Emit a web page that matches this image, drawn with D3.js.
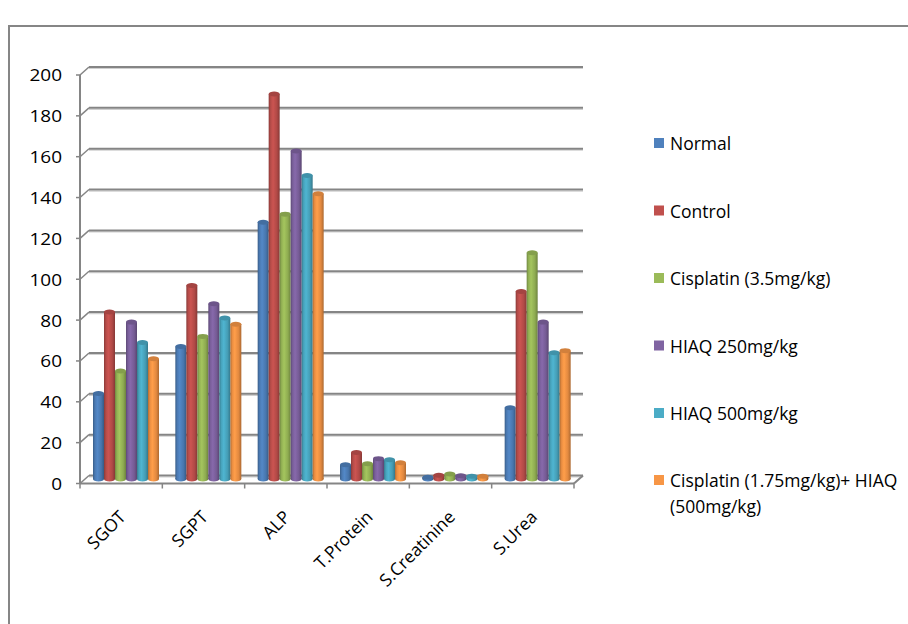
<!DOCTYPE html>
<html>
<head>
<meta charset="utf-8">
<script src="https://cdn.jsdelivr.net/npm/d3@7"></script>
<style>
  html, body { margin: 0; padding: 0; background: #fff; }
  svg { display: block; }
  text { font-family: "Open Sans", sans-serif; fill: #000; }
</style>
</head>
<body>
<svg id="chart" width="908" height="624"></svg>
<script>
// Biochemical parameters per treatment group
const categories = ["SGOT", "SGPT", "ALP", "T.Protein", "S.Creatinine", "S.Urea"];
const seriesNames = ["Normal", "Control", "Cisplatin (3.5mg/kg)", "HIAQ 250mg/kg", "HIAQ 500mg/kg", "Cisplatin (1.75mg/kg)+ HIAQ (500mg/kg)"];
const normal    = [42, 65, 126, 7, 0.8, 35];
const control   = [82, 95, 189, 13, 1.8, 92];
const cisplatin = [53, 70, 130, 7.5, 2.5, 111];
const hiaq250   = [77, 86, 161, 10, 1.6, 77];
const hiaq500   = [67, 79, 149, 9.5, 1.3, 62];
const combo     = [59, 76, 140, 8, 1.4, 63];
const seriesValues = [normal, control, cisplatin, hiaq250, hiaq500, combo];
const yTicks = [0, 20, 40, 60, 80, 100, 120, 140, 160, 180, 200];
const colors = ["#4F81BD", "#C0504D", "#9BBB59", "#8064A2", "#4BACC6", "#F79646"];

const svg = d3.select("#chart");
const defs = svg.append("defs");

// outer chart-area frame
svg.append("rect").attr("x", 9).attr("y", 26).attr("width", 940).attr("height", 640)
  .attr("fill", "none").attr("stroke", "#868686").attr("stroke-width", 2);

// 3D box geometry: front plane and depth offset
const left = 80, right = 574;
const depthX = 9, depthY = -8;
const yFront = d3.scaleLinear().domain([0, 200]).range([483.5, 75]);
const yBar = d3.scaleLinear().domain([0, 200]).range([479, 71.5]);
const x0 = d3.scaleBand().domain(categories).range([left, right]);
const x1 = d3.scaleBand().domain(seriesNames).range([8.5, 74.5]);
const barShiftX = depthX / 2;

const gridColor = "#858585";

// back wall gridlines + side wall diagonals
const grid = svg.append("g");
yTicks.forEach(t => {
  const yf = yFront(t);
  grid.append("line").attr("x1", left + depthX).attr("x2", right + depthX)
    .attr("y1", yf + depthY + 1.5).attr("y2", yf + depthY + 1.5)
    .attr("stroke", "#d0d0d0").attr("stroke-width", 1.2);
  grid.append("line").attr("x1", left + depthX).attr("x2", right + depthX)
    .attr("y1", yf + depthY).attr("y2", yf + depthY)
    .attr("stroke", gridColor).attr("stroke-width", 2);
  grid.append("line").attr("x1", left).attr("x2", left + depthX)
    .attr("y1", yf).attr("y2", yf + depthY)
    .attr("stroke", gridColor).attr("stroke-width", 1.5);
});

// floor edges
grid.append("line").attr("x1", left).attr("x2", right).attr("y1", yFront(0)).attr("y2", yFront(0))
  .attr("stroke", gridColor).attr("stroke-width", 2);
grid.append("line").attr("x1", right).attr("x2", right + depthX)
  .attr("y1", yFront(0)).attr("y2", yFront(0) + depthY)
  .attr("stroke", gridColor).attr("stroke-width", 2);

// category tick marks
const bounds = categories.map(c => x0(c)).concat([right]);
bounds.forEach(b => {
  grid.append("line").attr("x1", b).attr("x2", b).attr("y1", yFront(0)).attr("y2", yFront(0) + 5)
    .attr("stroke", gridColor).attr("stroke-width", 1.5);
});

// value axis line and ticks
grid.append("line").attr("x1", left).attr("x2", left).attr("y1", yFront(200)).attr("y2", yFront(0))
  .attr("stroke", gridColor).attr("stroke-width", 2);
yTicks.forEach(t => {
  grid.append("line").attr("x1", left - 4).attr("x2", left).attr("y1", yFront(t)).attr("y2", yFront(t))
    .attr("stroke", gridColor).attr("stroke-width", 1.5);
});

// value labels (slightly widened glyphs)
svg.append("g").selectAll("text").data(yTicks).join("text")
  .attr("transform", d => `translate(62,${yFront(d)}) scale(1.15,1)`)
  .attr("text-anchor", "end").attr("dominant-baseline", "central")
  .attr("font-size", 16.5).text(d => d);

// category labels
svg.append("g").selectAll("text").data(categories).join("text")
  .attr("transform", d => `translate(${x0(d) + x0.bandwidth() / 2 - 3},${yFront(0) + 26}) rotate(-45)`)
  .attr("text-anchor", "end").attr("dy", "0.7em")
  .attr("font-size", 17.5).text(d => d);

// cylinder shading gradients
colors.forEach((c, i) => {
  const g = defs.append("linearGradient").attr("id", "cyl" + i)
    .attr("x1", "0%").attr("x2", "100%").attr("y1", "0%").attr("y2", "0%");
  const base = d3.color(c);
  g.append("stop").attr("offset", "0%").attr("stop-color", base.darker(0.9));
  g.append("stop").attr("offset", "18%").attr("stop-color", base.darker(0.15));
  g.append("stop").attr("offset", "40%").attr("stop-color", base.brighter(0.15));
  g.append("stop").attr("offset", "75%").attr("stop-color", base.darker(0.25));
  g.append("stop").attr("offset", "100%").attr("stop-color", base.darker(1.0));
});

// bars (cylinders)
const bars = svg.append("g");
categories.forEach((cat, ci) => {
  seriesNames.forEach((s, si) => {
    const v = seriesValues[si][ci];
    const w = x1.bandwidth();
    const bx = x0(cat) + barShiftX + x1(s);
    const top = yBar(v), bottom = yBar(0);
    const ry = 2.5;
    const g = bars.append("g");
    g.append("ellipse").attr("cx", bx + w / 2).attr("cy", bottom).attr("rx", w / 2).attr("ry", ry)
      .attr("fill", `url(#cyl${si})`);
    g.append("rect").attr("x", bx).attr("y", top).attr("width", w).attr("height", Math.max(0, bottom - top))
      .attr("fill", `url(#cyl${si})`);
    g.append("ellipse").attr("cx", bx + w / 2).attr("cy", top).attr("rx", w / 2).attr("ry", ry)
      .attr("fill", d3.color(colors[si]).darker(0.45));
  });
});

// legend
const legendY = [143, 210.5, 278, 345.5, 413, 480];
const legend = svg.append("g");
seriesNames.forEach((s, i) => {
  legend.append("rect").attr("x", 654).attr("y", legendY[i] - 5).attr("width", 10).attr("height", 10)
    .attr("fill", colors[i]);
  const t = legend.append("text").attr("x", 670).attr("y", legendY[i])
    .attr("dominant-baseline", "central").attr("font-size", 17.5);
  if (i === 5) {
    t.text("Cisplatin (1.75mg/kg)+ HIAQ");
    legend.append("text").attr("x", 670).attr("y", legendY[i] + 26)
      .attr("dominant-baseline", "central").attr("font-size", 17.5).text("(500mg/kg)");
  } else {
    t.text(s);
  }
});
</script>
</body>
</html>
